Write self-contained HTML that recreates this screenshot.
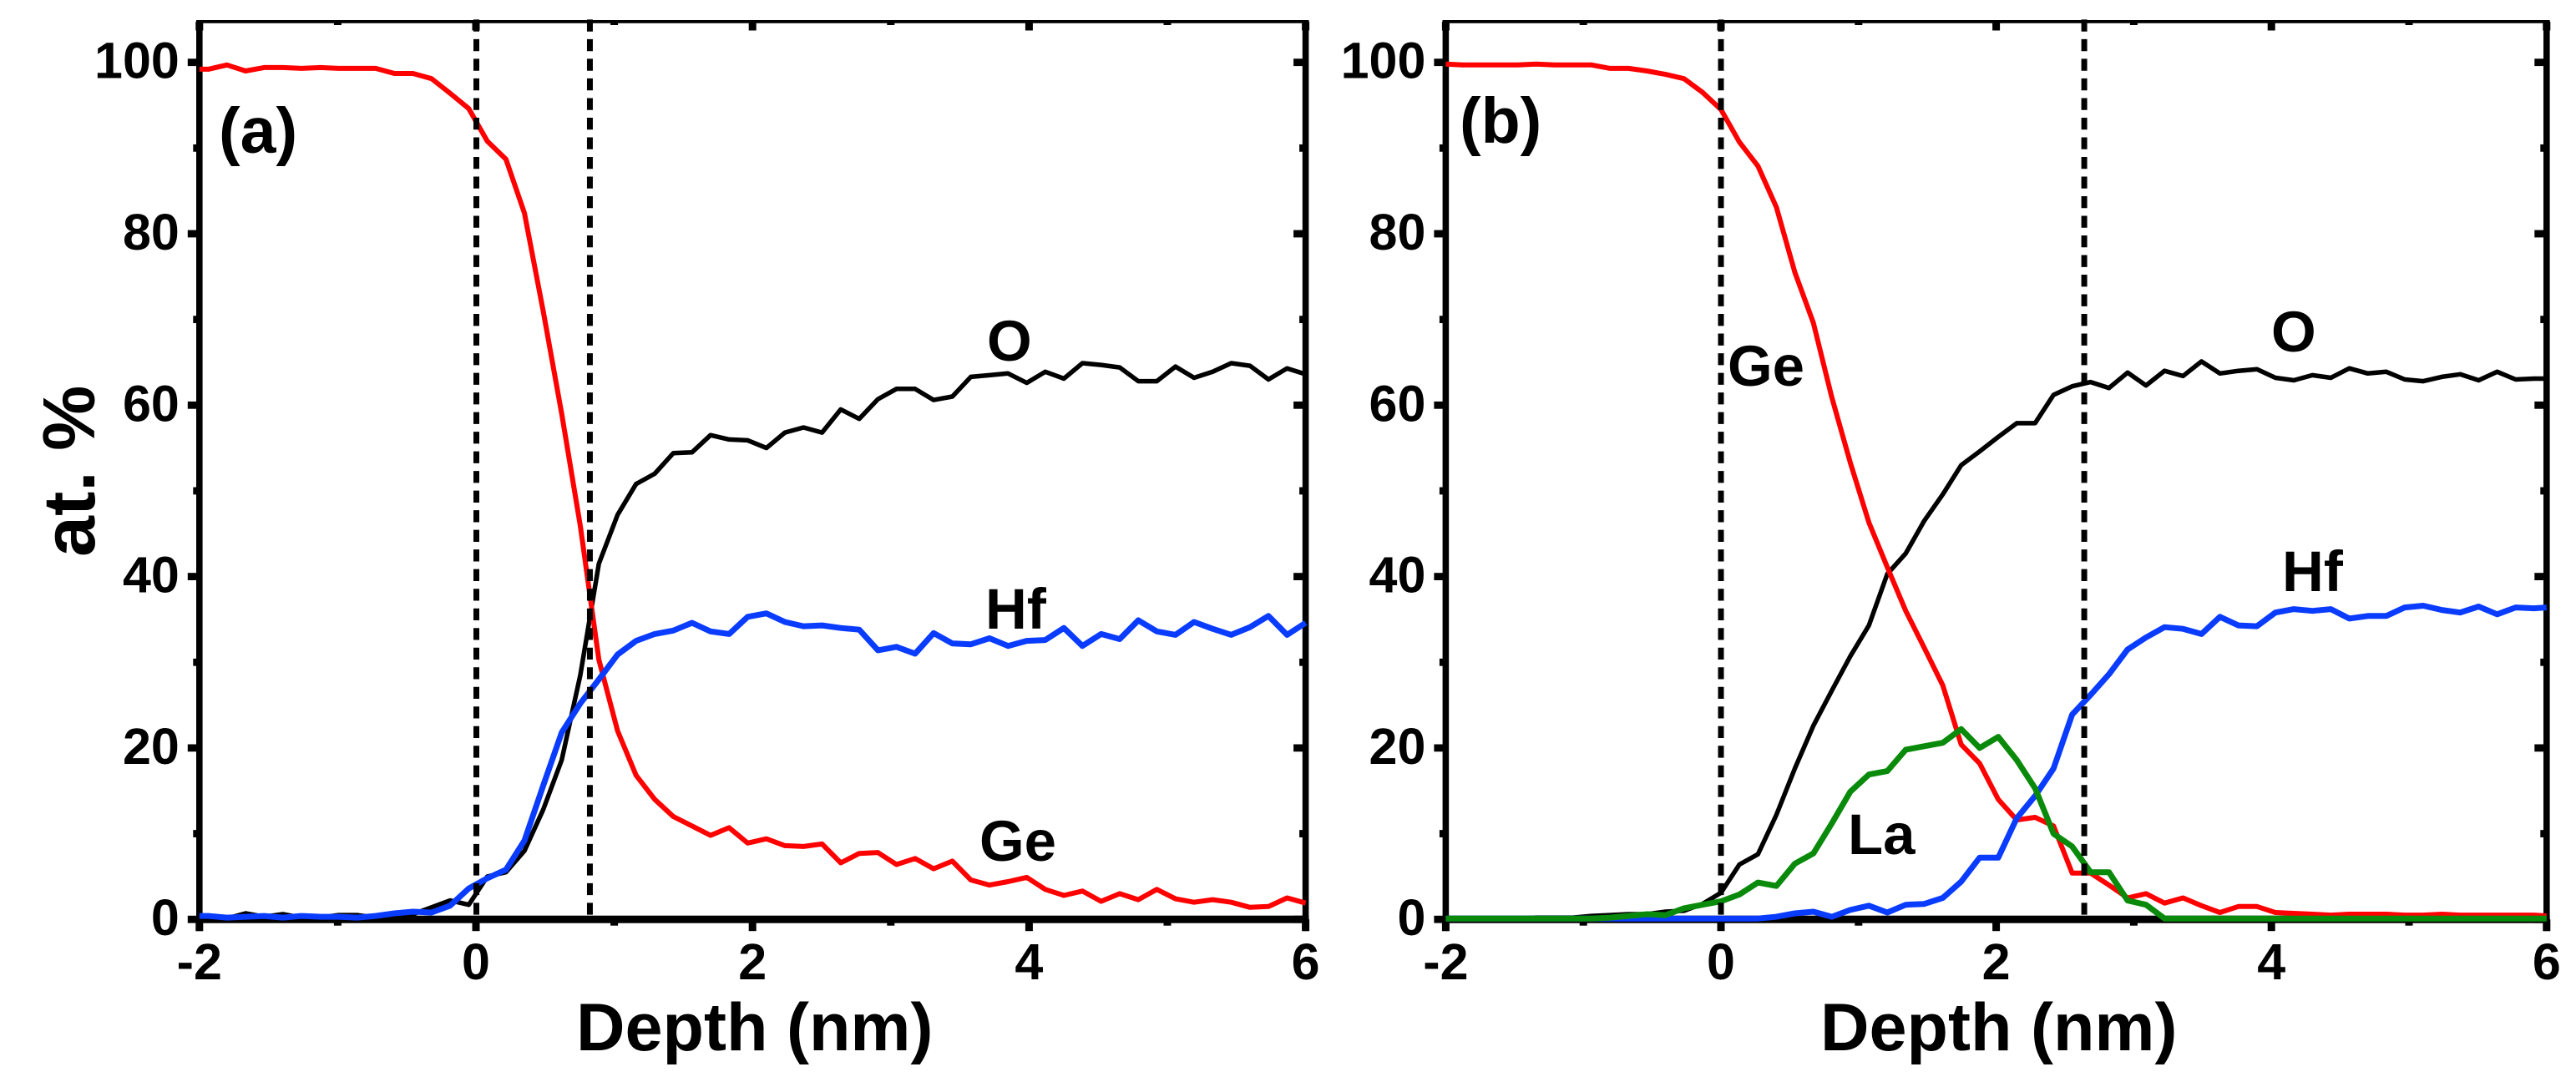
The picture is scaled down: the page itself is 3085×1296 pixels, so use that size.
<!DOCTYPE html>
<html lang="en">
<head>
<meta charset="utf-8">
<title>Depth profiles of Ge, O, Hf and La</title>
<style>
html,body{margin:0;padding:0;background:#fff;width:3085px;height:1296px;overflow:hidden}
svg{display:block}
text{font-family:"Liberation Sans",Arial,sans-serif;font-weight:bold;fill:#000}
.tick{font-size:61px}
.title{font-size:81px}
.series{font-size:69px}
.panel{font-size:77px}
</style>
</head>
<body>
<svg id="chart" xmlns="http://www.w3.org/2000/svg" width="3085" height="1296" viewBox="0 0 3085 1296">
  <rect x="0" y="0" width="3085" height="1296" fill="#fff"/>
  <g id="panel-a"></g>
  <g id="panel-b"></g>

  <text class="title" style="font-size:88px" transform="translate(113,667) rotate(-90)">at. %</text>
  <text class="title" x="690" y="1258">Depth (nm)</text>
  <text class="title" x="2180" y="1258">Depth (nm)</text>

  <text class="panel" x="262" y="183">(a)</text>
  <text class="panel" x="1748" y="171">(b)</text>

  <text class="series" x="1182" y="432">O</text>
  <text class="series" x="1180" y="753">Hf</text>
  <text class="series" x="1173" y="1031">Ge</text>
  <text class="series" x="2069" y="462">Ge</text>
  <text class="series" x="2720" y="421">O</text>
  <text class="series" x="2733" y="708">Hf</text>
  <text class="series" x="2213" y="1023">La</text>
</svg>

<script>
// Shared axis ticks
var xMajorTicks = [-2, 0, 2, 4, 6];
var xMinorTicks = [-1, 1, 3, 5];
var yMajorTicks = [0, 20, 40, 60, 80, 100];
var yMinorTicks = [10, 30, 50, 70, 90];

// Panel (a) data
var depthA = [-2,-1.935,-1.801,-1.666,-1.532,-1.397,-1.263,-1.128,-0.994,-0.859,-0.725,-0.59,-0.456,-0.321,-0.187,-0.052,0.082,0.217,0.351,0.486,0.62,0.755,0.889,1.024,1.158,1.293,1.427,1.562,1.696,1.831,1.965,2.1,2.234,2.369,2.503,2.638,2.772,2.907,3.041,3.176,3.31,3.445,3.579,3.714,3.848,3.983,4.117,4.252,4.386,4.521,4.655,4.79,4.924,5.059,5.193,5.328,5.462,5.597,5.731,5.866,6];
var geA = [99.2,99.2,99.7,99.0,99.4,99.4,99.3,99.4,99.3,99.3,99.3,98.7,98.7,98.1,96.4,94.6,90.8,88.7,82.4,71,59,45.9,30.3,22,16.8,14,12,10.9,9.8,10.7,8.9,9.4,8.6,8.5,8.8,6.6,7.7,7.8,6.4,7.1,5.9,6.8,4.6,4,4.4,4.9,3.5,2.8,3.3,2.1,3,2.3,3.5,2.4,2,2.3,2,1.4,1.5,2.5,1.9];
var oA = [0.3,0.2,0.1,0.7,0.3,0.6,0.2,0.2,0.5,0.5,0.2,0.6,0.6,1.4,2.2,1.7,5,5.5,8,12.8,18.6,28.5,41.5,47.2,50.8,52,54.4,54.5,56.5,56,55.9,55,56.8,57.4,56.8,59.5,58.4,60.7,61.9,61.9,60.6,61,63.3,63.5,63.7,62.6,63.9,63.1,64.9,64.7,64.4,62.8,62.8,64.5,63.2,63.9,64.9,64.6,63,64.3,63.6];
var hfA = [0.4,0.4,0.2,0.3,0.4,0.2,0.4,0.3,0.3,0.2,0.4,0.7,0.9,0.8,1.6,3.6,4.8,5.8,9.2,15.6,21.8,25.2,28,30.9,32.5,33.3,33.7,34.6,33.6,33.3,35.3,35.7,34.7,34.2,34.3,34,33.8,31.4,31.8,31,33.4,32.2,32.1,32.8,31.9,32.5,32.6,34,31.9,33.3,32.7,34.9,33.6,33.2,34.7,33.9,33.2,34.1,35.4,33.2,34.6];
var boundariesA = [0.003, 0.824];

// Panel (b) data
var depthB = [-2,-1.88,-1.746,-1.612,-1.477,-1.343,-1.209,-1.075,-0.94,-0.806,-0.672,-0.537,-0.403,-0.269,-0.134,0,0.134,0.269,0.403,0.537,0.672,0.806,0.94,1.075,1.209,1.343,1.477,1.612,1.746,1.88,2.015,2.149,2.283,2.417,2.552,2.686,2.82,2.955,3.089,3.223,3.358,3.492,3.626,3.76,3.895,4.029,4.163,4.298,4.432,4.566,4.701,4.835,4.969,5.103,5.238,5.372,5.506,5.641,5.775,5.909,6];
var geB = [99.8,99.7,99.7,99.7,99.7,99.8,99.7,99.7,99.7,99.3,99.3,99,98.6,98.1,96.5,94.5,90.7,87.9,83.1,75.5,69.6,60.9,53.3,46.3,41.1,36,31.7,27.3,20.4,18.2,14,11.6,11.9,10.9,5.4,5.4,4,2.5,3,1.9,2.5,1.6,0.8,1.5,1.5,0.8,0.7,0.6,0.5,0.6,0.6,0.6,0.5,0.5,0.6,0.5,0.5,0.5,0.5,0.5,0.4];
var oB = [0.1,0.1,0.1,0.1,0.1,0.2,0.2,0.2,0.4,0.5,0.6,0.6,0.9,1,1.8,3.1,6.4,7.6,12.2,17.6,22.6,26.7,30.7,34.3,40.3,42.7,46.5,49.6,53,54.6,56.3,57.9,57.9,61.2,62.2,62.7,62,63.8,62.3,64,63.4,65.1,63.7,64,64.2,63.2,62.9,63.5,63.2,64.3,63.7,63.9,63,62.8,63.3,63.6,62.9,63.9,63,63.1,63.1];
var hfB = [0.1,0.1,0.1,0.1,0.1,0.1,0.1,0.1,0.1,0.1,0.1,0.1,0.1,0.1,0.1,0.1,0.1,0.1,0.3,0.7,0.9,0.3,1.1,1.6,0.8,1.7,1.8,2.5,4.4,7.2,7.2,11.8,14.4,17.6,23.9,26.2,28.6,31.5,32.9,34.1,33.9,33.3,35.3,34.3,34.2,35.8,36.2,36,36.2,35.1,35.4,35.4,36.4,36.6,36.1,35.8,36.5,35.6,36.4,36.3,36.4];
var laB = [0.1,0.1,0.1,0.1,0.1,0.1,0.1,0.1,0.1,0.2,0.4,0.6,0.5,1.3,1.7,2.1,2.9,4.3,3.9,6.5,7.7,11.2,14.9,16.9,17.3,19.8,20.2,20.6,22.2,20,21.3,18.6,15.3,10,8.5,5.5,5.5,2.2,1.7,0.1,0.1,0.1,0.1,0.1,0.1,0.1,0.1,0.1,0.1,0.1,0.1,0.1,0.1,0.1,0.1,0.1,0.1,0.1,0.1,0.1,0.1];
var boundariesB = [0, 2.64];

var SVG_NS = 'http://www.w3.org/2000/svg';

function yScale(value) {
  return 1101.2 - value * 10.265;
}

function makeXScale(zeroPx, pxPerUnit) {
  return function (depth) {
    return zeroPx + depth * pxPerUnit;
  };
}

function shape(parent, tag) {
  var el = document.createElementNS(SVG_NS, tag);
  parent.appendChild(el);
  return el;
}

function rect(parent, x, y, w, h, name) {
  var el = shape(parent, 'rect');
  el.setAttribute('x', x);
  el.setAttribute('y', y);
  el.setAttribute('width', w);
  el.setAttribute('height', h);
  el.setAttribute('fill', '#000');
  
  
  return el;
}

function label(parent, x, y, anchor, str, name) {
  var el = shape(parent, 'text');
  el.setAttribute('class', 'tick');
  el.setAttribute('x', x);
  el.setAttribute('y', y);
  el.setAttribute('text-anchor', anchor);
  
  
  el.textContent = str;
}

function drawAxes(g, xs, prefix) {
  var left = xs(-2), right = xs(6), top = 26, bottom = 1101.2;
  var i, px, py;

  rect(g, left - 3.8, top - 2, 7.6, bottom + 14 - top + 2, prefix + '-left-axis');
  rect(g, right - 3.8, top - 2, 7.6, bottom + 14 - top + 2, prefix + '-right-axis');
  rect(g, left - 3.8, top - 2, right - left + 7.6, 3.8, prefix + '-top-axis');
  rect(g, left - 3.8, bottom - 4.5, right - left + 7.6, 9, prefix + '-bottom-axis');

  for (i = 0; i < xMajorTicks.length; i++) {
    px = xs(xMajorTicks[i]);
    rect(g, px - 4.5, bottom, 9, 14, prefix + '-x-major-tick');
    rect(g, px - 4.5, top, 9, 10.5, prefix + '-top-major-tick');
    label(g, px, 1173, 'middle', String(xMajorTicks[i]), prefix + '-x-tick-label');
  }
  for (i = 0; i < xMinorTicks.length; i++) {
    px = xs(xMinorTicks[i]);
    rect(g, px - 4.5, bottom, 9, 7.5, prefix + '-x-minor-tick');
    rect(g, px - 4.5, top, 9, 4, prefix + '-top-minor-tick');
  }
  for (i = 0; i < yMajorTicks.length; i++) {
    py = yScale(yMajorTicks[i]);
    rect(g, left - 14, py - 4.4, 14, 8.8, prefix + '-y-major-tick');
    rect(g, right - 14.5, py - 4.4, 14.5, 8.8, prefix + '-right-major-tick');
    label(g, left - 24, py + 19, 'end', String(yMajorTicks[i]), prefix + '-y-tick-label');
  }
  for (i = 0; i < yMinorTicks.length; i++) {
    py = yScale(yMinorTicks[i]);
    rect(g, left - 7.5, py - 4.4, 7.5, 8.8, prefix + '-y-minor-tick');
    rect(g, right - 7.5, py - 4.4, 7.5, 8.8, prefix + '-right-minor-tick');
  }
}

function drawSeries(g, xs, depths, values, color, width, name) {
  var pts = [];
  for (var i = 0; i < depths.length; i++) {
    pts.push(xs(depths[i]).toFixed(1) + ',' + yScale(values[i]).toFixed(1));
  }
  var el = shape(g, 'polyline');
  el.setAttribute('points', pts.join(' '));
  el.setAttribute('fill', 'none');
  el.setAttribute('stroke', color);
  el.setAttribute('stroke-width', width);
  el.setAttribute('stroke-linejoin', 'round');
  
  
}

function drawBoundaries(g, xs, positions, prefix) {
  for (var i = 0; i < positions.length; i++) {
    var el = shape(g, 'line');
    el.setAttribute('x1', xs(positions[i]));
    el.setAttribute('x2', xs(positions[i]));
    el.setAttribute('y1', 23.4);
    el.setAttribute('y2', 1096);
    el.setAttribute('stroke', '#000');
    el.setAttribute('stroke-width', 7);
    el.setAttribute('stroke-dasharray', '14.3 9.21');
    
    
  }
}

var xA = makeXScale(570, 165.6);
var xB = makeXScale(2061, 164.8);
var gA = document.getElementById('panel-a');
var gB = document.getElementById('panel-b');

drawAxes(gA, xA, 'panel-a');
drawSeries(gA, xA, depthA, oA, '#000000', 5.5, 'panel-a-o-line');
drawSeries(gA, xA, depthA, geA, '#ff0000', 6, 'panel-a-ge-line');
drawSeries(gA, xA, depthA, hfA, '#0a3cff', 7, 'panel-a-hf-line');
drawBoundaries(gA, xA, boundariesA, 'panel-a');

drawAxes(gB, xB, 'panel-b');
drawSeries(gB, xB, depthB, oB, '#000000', 5.5, 'panel-b-o-line');
drawSeries(gB, xB, depthB, geB, '#ff0000', 6, 'panel-b-ge-line');
drawSeries(gB, xB, depthB, hfB, '#0a3cff', 7, 'panel-b-hf-line');
drawSeries(gB, xB, depthB, laB, '#0a8a0a', 7, 'panel-b-la-line');
drawBoundaries(gB, xB, boundariesB, 'panel-b');
</script>
</body>
</html>
